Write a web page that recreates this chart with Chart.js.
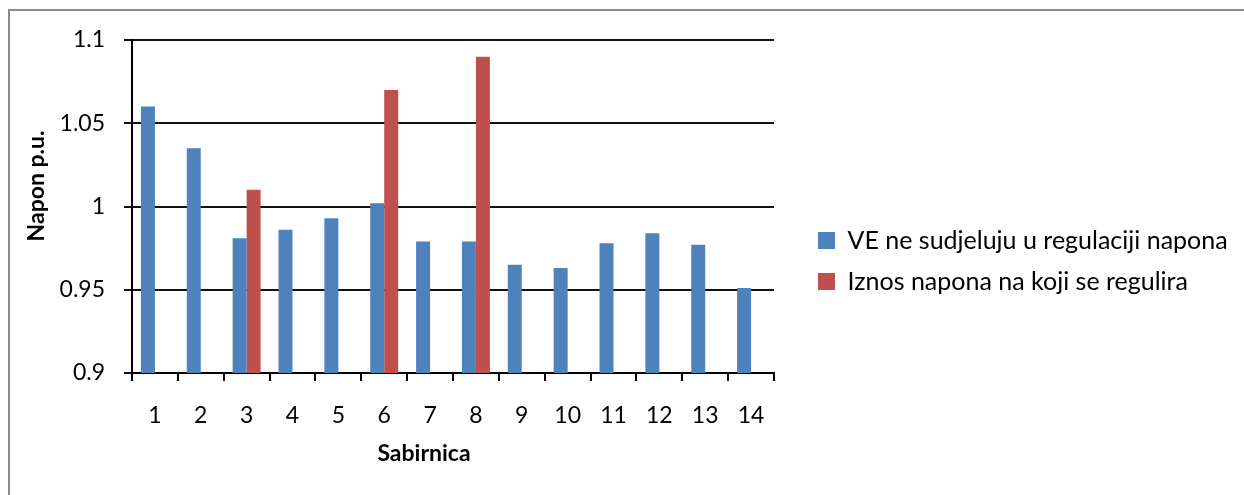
<!DOCTYPE html>
<html>
<head>
<meta charset="utf-8">
<script src="https://cdn.jsdelivr.net/npm/chart.js@4.4.1/dist/chart.umd.min.js"></script>
<style>
    body { margin: 0; background: #fff; }
    #wrap { position: relative; width: 1244px; height: 495px; }
    #frame {
        position: absolute; left: 8px; top: 9px; right: 0; bottom: 0;
        border-left: 2px solid #8c8c8c; border-top: 2px solid #8c8c8c;
        pointer-events: none;
    }
    canvas { position: absolute; left: 0; top: 0; }
</style>
</head>
<body>
<div id="wrap">
    <canvas id="napon" width="1244" height="495"></canvas>
    <div id="frame"></div>
</div>
<script>
// sabirnice (buses)
const categories = ['1', '2', '3', '4', '5', '6', '7', '8', '9', '10', '11', '12', '13', '14'];

// VE ne sudjeluju u regulaciji napona
const bezRegulacije = [1.060, 1.035, 0.981, 0.986, 0.993, 1.002, 0.979, 0.979, 0.965, 0.963, 0.978, 0.984, 0.977, 0.951];

// Iznos napona na koji se regulira (only buses 3, 6, 8)
const zadaniNapon = [null, null, 1.010, null, null, 1.070, null, 1.090, null, null, null, null, null, null];

const yTickLabels = ['0.9', '0.95', '1', '1.05', '1.1'];

const FONT = 'Lato';

// axis titles sit off-centre in the original, so draw them by hand
const axisTitles = {
    id: 'axisTitles',
    afterDraw(chart) {
        const ctx = chart.ctx;
        ctx.save();
        ctx.font = 'bold 23px ' + FONT;
        ctx.fillStyle = '#000';
        ctx.textAlign = 'center';
        ctx.textBaseline = 'middle';
        ctx.fillText('Sabirnica', 424, 454);
        ctx.translate(37, 186);
        ctx.rotate(-Math.PI / 2);
        ctx.fillText('Napon p.u.', 0, 0);
        ctx.restore();
    }
};

// move the legend to the right hand side
const legendPlace = {
    id: 'legendPlace',
    afterLayout(chart) {
        const lg = chart.legend;
        const pad = chart.options.plugins.legend.labels.padding;
        lg.left = 818 - pad;
        lg.right = 1244;
        lg.top = 228 - pad;
        lg.bottom = 495;
    }
};

new Chart(document.getElementById('napon'), {
    type: 'bar',
    data: {
        labels: categories,
        datasets: [{
            label: 'VE ne sudjeluju u regulaciji napona',
            data: bezRegulacije,
            backgroundColor: '#4f81bd'
        }, {
            label: 'Iznos napona na koji se regulira',
            data: zadaniNapon,
            backgroundColor: '#c0504d'
        }]
    },
    options: {
        responsive: false,
        animation: false,
        layout: {
            padding: { top: 40, left: 0, right: 470, bottom: 0 }
        },
        datasets: {
            bar: { categoryPercentage: 0.61, barPercentage: 1.0 }
        },
        plugins: {
            legend: {
                position: 'chartArea',
                align: 'start',
                labels: {
                    boxWidth: 17,
                    boxHeight: 17,
                    padding: 16,
                    color: '#000',
                    font: { family: FONT, size: 25 }
                }
            },
            tooltip: { enabled: false }
        },
        scales: {
            x: {
                afterFit: s => { s.height = 122; },
                grid: {
                    drawOnChartArea: false,
                    drawTicks: true,
                    tickLength: 8,
                    color: '#000',
                    lineWidth: 2
                },
                border: { color: '#000', width: 2 },
                ticks: {
                    padding: 21,
                    color: '#000',
                    font: { family: FONT, size: 23 }
                }
            },
            y: {
                min: 0.9,
                max: 1.1,
                afterFit: s => { s.width = 132; },
                grid: {
                    color: '#111',
                    lineWidth: 2,
                    tickLength: 8
                },
                border: { color: '#000', width: 2 },
                ticks: {
                    stepSize: 0.05,
                    padding: 19,
                    color: '#000',
                    font: { family: FONT, size: 23 },
                    callback: (v, i) => yTickLabels[i]
                }
            }
        }
    },
    plugins: [axisTitles, legendPlace]
});
</script>
</body>
</html>
